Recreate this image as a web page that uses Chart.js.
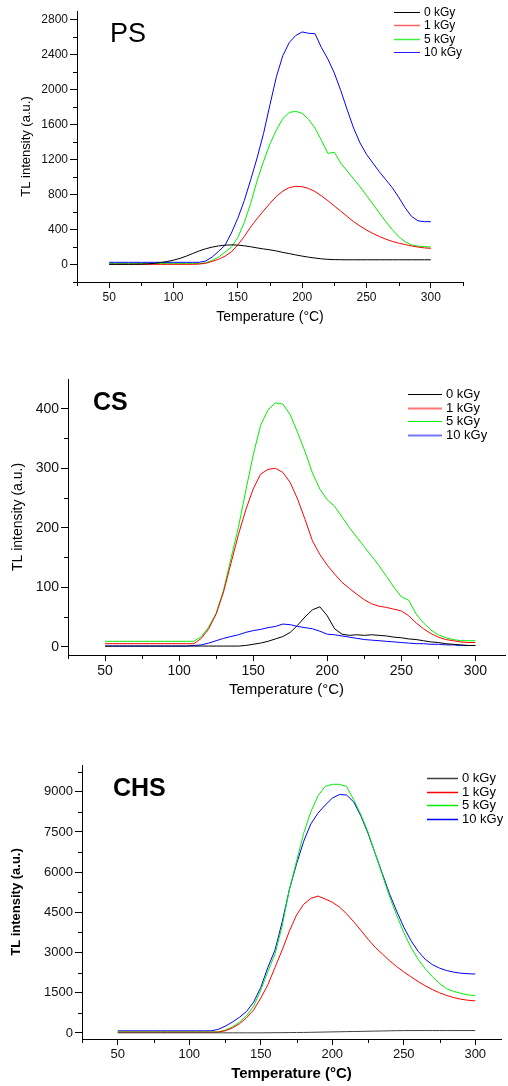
<!DOCTYPE html>
<html>
<head>
<meta charset="utf-8">
<script src="https://cdn.jsdelivr.net/npm/chart.js@4.4.0/dist/chart.umd.min.js"></script>
<style>
  body { margin: 0; background: #fff; width: 508px; height: 1086px; position: relative; overflow: hidden; }
  .box { position: absolute; left: 0; width: 508px; }
</style>
</head>
<body>
<div class="box" style="top:0;height:340px"><canvas id="chartPS"></canvas></div>
<div class="box" style="top:360px;height:350px"><canvas id="chartCS"></canvas></div>
<div class="box" style="top:740px;height:346px"><canvas id="chartCHS"></canvas></div>
<script>
// temperature (°C), shared by all three panels
const temps = [50,55,60,65,70,75,80,85,90,95,100,105,110,115,120,125,130,135,140,145,
  150,155,160,165,170,175,180,185,190,195,200,205,210,215,220,225,230,235,240,245,
  250,255,260,265,270,275,280,285,290,295,300];
const doseLabels = ["0 kGy", "1 kGy", "5 kGy", "10 kGy"];

// --- PS ---
const ps0 = [2,2,2,2,3,4,7,13,22,34, 50,70,96,126,156,180,199,213,221,225,
  222,214,203,190,178,168,155,138,125,110, 96,84,74,65,59,56,55,54,54,54,
  54,54,54,54,54,54,54,54,54,54, 54];
const ps1 = [2,2,2,2,2,2,2,2,2,2, 2,2,2,2,5,15,35,60,95,145,
  225,320,430,525,615,700,780,840,880,895, 890,870,835,785,730,670,610,550,490,440,
  395,355,320,290,265,245,228,212,200,190, 185];
const ps5 = [10,10,10,10,10,10,10,10,10,10, 10,10,10,10,10,20,45,85,140,200,
  310,480,700,960,1180,1380,1540,1670,1740,1752, 1730,1660,1560,1420,1270,1285,1160,1070,980,890,
  790,690,590,490,400,320,260,225,210,205, 200];
const ps10 = [25,25,25,25,25,25,25,25,25,25, 25,25,25,25,25,40,85,150,220,360,
  530,730,970,1220,1500,1830,2150,2390,2540,2620, 2660,2645,2640,2480,2350,2190,1990,1770,1560,1390,
  1260,1160,1060,970,880,770,650,550,500,490, 490];
const psTicksY = [0,400,800,1200,1600,2000,2400,2800];
const psMinorY = [-200,200,600,1000,1400,1800,2200,2600];

// --- CS ---
const cs0 = [1,1,1,1,1,1,1,1,1,1, 1,1,1,1,1,1,1,1,1,2,
  4,6,9,13,17,24,36,50,62,67, 52,30,21,19,20,19,20,19,18,16,
  15,13,12,10,8,7,5,4,3,2, 2];
const cs1 = [5,5,5,5,5,5,5,5,5,5, 5,5,5,14,30,55,92,140,188,230,
  265,290,298,300,293,276,248,214,178,155, 137,122,108,98,88,79,72,68,66,63,
  60,52,40,30,22,16,12,10,8,7, 7];
const cs5 = [9,9,9,9,9,9,9,9,9,9, 9,9,9,17,33,56,95,148,200,262,
  322,372,398,410,408,390,360,328,292,265, 247,236,218,200,184,168,152,136,118,100,
  84,78,55,40,28,20,15,12,10,10, 10];
const cs10 = [1,1,1,1,1,1,1,1,1,1, 1,1,2,3,6,10,14,17,20,24,
  27,29,32,34,38,37,34,32,30,26, 21,20,18,16,14,12,11,10,9,8,
  7,6,5,5,4,4,3,3,2,2, 2];
const csTicksY = [0,100,200,300,400];
const csMinorY = [50,150,250,350];

// --- CHS ---
const chs0 = [5,5,5,5,5,5,5,5,5,5, 5,5,5,5,5,5,5,5,5,5,
  5,8,10,12,15,18,20,25,30,35, 40,45,50,55,60,65,70,75,80,85,
  88,90,90,90,90,90,90,90,90,90, 90];
const chs1 = [30,30,30,30,30,30,30,30,30,30, 30,30,30,30,30,80,180,340,560,860,
  1300,1800,2450,3100,3800,4400,4800,5020,5110,5000, 4880,4700,4450,4150,3830,3500,3200,2950,2700,2480,
  2280,2100,1920,1760,1620,1500,1400,1320,1260,1220, 1200];
const chs5 = [40,40,40,40,40,40,40,40,40,40, 40,40,40,40,40,100,220,400,640,1000,
  1600,2300,2950,4000,5350,6400,7450,8250,8850,9200, 9280,9280,9200,8700,8150,7500,6700,5900,5100,4400,
  3750,3200,2750,2400,2100,1850,1650,1550,1480,1420, 1400];
const chs10 = [80,80,80,80,80,80,80,80,80,80, 80,80,80,80,130,250,400,580,800,1150,
  1700,2450,3100,4150,5350,6300,7150,7800,8200,8500, 8760,8900,8880,8620,8100,7450,6700,5950,5200,4550,
  3950,3450,3050,2750,2550,2420,2330,2270,2230,2210, 2200];
const chsTicksY = [0,1500,3000,4500,6000,7500,9000];
const chsMinorY = [750,2250,3750,5250,6750,8250,9750];

const ticksX = [50,100,150,200,250,300];
const minorX = [25,75,125,175,225,275,325];

Chart.defaults.font.family = '"Liberation Sans", Arial, sans-serif';

// minor ticks, panel name and legend
const extras = {
  id: "extras",
  afterDraw(chart, args, o) {
    const { ctx } = chart;
    const x = chart.scales.x, y = chart.scales.y;
    ctx.save();
    ctx.strokeStyle = "#000";
    ctx.lineWidth = 1;
    ctx.beginPath();
    o.minorX.forEach(v => {
      if (v < x.min || v > x.max) return;
      const px = Math.round(x.getPixelForValue(v)) + 0.5;
      ctx.moveTo(px, x.top); ctx.lineTo(px, x.top + 4);
    });
    o.minorY.forEach(v => {
      const py = Math.round(y.getPixelForValue(v)) + 0.5;
      ctx.moveTo(y.right, py); ctx.lineTo(y.right - 4, py);
    });
    ctx.stroke();

    ctx.fillStyle = "#000";
    ctx.font = o.labelFont;
    ctx.textBaseline = "alphabetic";
    ctx.fillText(o.label, o.labelX, o.labelY);

    ctx.font = o.legendFont;
    ctx.textBaseline = "middle";
    chart.data.datasets.forEach((ds, i) => {
      const ly = Math.round(o.legendY + i * o.legendGap) + 0.5;
      ctx.strokeStyle = o.legendColors[i];
      ctx.lineWidth = o.legendWidths[i];
      ctx.beginPath();
      ctx.moveTo(o.legendX, ly);
      ctx.lineTo(o.legendX + o.legendLen, ly);
      ctx.stroke();
      ctx.fillText(ds.label, o.legendX + o.legendLen + 4, ly);
    });
    ctx.restore();
  }
};

function series(vals) {
  return temps.map((t, i) => ({ x: t, y: vals[i] }));
}

function makeChart(id, p) {
  return new Chart(document.getElementById(id), {
    type: "line",
    data: {
      datasets: p.values.map((v, i) => ({
        label: doseLabels[i],
        data: series(v),
        borderColor: p.colors[i],
        borderWidth: 1,
        pointRadius: 0,
        tension: 0,
        fill: false
      }))
    },
    options: {
      responsive: true,
      maintainAspectRatio: false,
      animation: false,
      layout: { padding: { left: p.padLeft, top: p.padTop, right: p.padRight, bottom: 0 } },
      plugins: {
        legend: { display: false },
        tooltip: { enabled: false },
        extras: p.extras
      },
      scales: {
        x: {
          type: "linear",
          min: 25,
          max: p.xMax,
          afterBuildTicks: s => { s.ticks = ticksX.map(v => ({ value: v })); },
          afterFit: s => { s.height = p.xHeight; },
          border: { display: true, color: "#000", width: 1 },
          grid: { drawOnChartArea: false, drawTicks: true, tickLength: 6, tickColor: "#000" },
          ticks: { autoSkip: false, maxRotation: 0, padding: 2, color: "#111",
                   font: { size: p.tickSize }, callback: v => String(v) },
          title: { display: true, text: "Temperature (°C)", color: "#000",
                   font: { size: p.xTitleSize, weight: p.titleWeight },
                   padding: { top: 0, bottom: p.xTitlePad } }
        },
        y: {
          min: p.yMin,
          max: p.yMax,
          afterBuildTicks: s => { s.ticks = p.ticksY.map(v => ({ value: v })); },
          afterFit: s => { s.width = p.yWidth; },
          border: { display: true, color: "#000", width: 1 },
          grid: { drawOnChartArea: false, drawTicks: true, tickLength: 7, tickColor: "#000" },
          ticks: { autoSkip: false, padding: 2, color: "#111",
                   font: { size: p.tickSize }, callback: v => String(v) },
          title: { display: true, text: "TL intensity (a.u.)", color: "#000",
                   font: { size: p.yTitleSize, weight: p.titleWeight },
                   padding: { top: 4, bottom: 4 } }
        }
      }
    },
    plugins: [extras]
  });
}

makeChart("chartPS", {
  values: [ps0, ps1, ps5, ps10],
  colors: ["#000000", "#ff0000", "#00ee00", "#0000ff"],
  padLeft: 15, padTop: 11, padRight: 45,
  xMax: 325, xHeight: 58, yWidth: 62,
  yMin: -200, yMax: 2900, ticksY: psTicksY,
  tickSize: 12, xTitleSize: 14, yTitleSize: 13, titleWeight: "normal", xTitlePad: 14,
  extras: {
    minorX: minorX, minorY: psMinorY,
    label: "PS", labelFont: '27px "Liberation Sans", Arial, sans-serif', labelX: 110, labelY: 42,
    legendFont: '12px "Liberation Sans", Arial, sans-serif',
    legendX: 394, legendLen: 26, legendY: 12, legendGap: 13.3,
    legendColors: ["#000000", "#ff6060", "#40ee40", "#2020ff"], legendWidths: [1, 1.5, 1.5, 1]
  }
});

makeChart("chartCS", {
  values: [cs0, cs1, cs5, cs10],
  colors: ["#000000", "#ff0000", "#00ee00", "#0000ff"],
  padLeft: 6, padTop: 19, padRight: 3,
  xMax: 320, xHeight: 55, yWidth: 62,
  yMin: -14, yMax: 450, ticksY: csTicksY,
  tickSize: 14, xTitleSize: 15, yTitleSize: 14, titleWeight: "normal", xTitlePad: 11,
  extras: {
    minorX: minorX, minorY: csMinorY,
    label: "CS", labelFont: 'bold 25px "Liberation Sans", Arial, sans-serif', labelX: 93, labelY: 50,
    legendFont: '13px "Liberation Sans", Arial, sans-serif',
    legendX: 408, legendLen: 34, legendY: 34, legendGap: 13.7,
    legendColors: ["#000000", "#ff7777", "#00ee00", "#7777ff"], legendWidths: [1, 2, 1, 2]
  }
});

makeChart("chartCHS", {
  values: [chs0, chs1, chs5, chs10],
  colors: ["#404040", "#ff0000", "#00ee00", "#0000ff"],
  padLeft: 5, padTop: 25, padRight: 7,
  xMax: 318, xHeight: 47, yWidth: 77,
  yMin: -225, yMax: 10000, ticksY: chsTicksY,
  tickSize: 13, xTitleSize: 15, yTitleSize: 13, titleWeight: "bold", xTitlePad: 3,
  extras: {
    minorX: minorX, minorY: chsMinorY,
    label: "CHS", labelFont: 'bold 25px "Liberation Sans", Arial, sans-serif', labelX: 113, labelY: 56,
    legendFont: '13px "Liberation Sans", Arial, sans-serif',
    legendX: 427, legendLen: 31, legendY: 38, legendGap: 13.7,
    legendColors: ["#404040", "#ff0000", "#00ee00", "#0000ff"], legendWidths: [1.5, 1.5, 1.5, 1.5]
  }
});
</script>
</body>
</html>
